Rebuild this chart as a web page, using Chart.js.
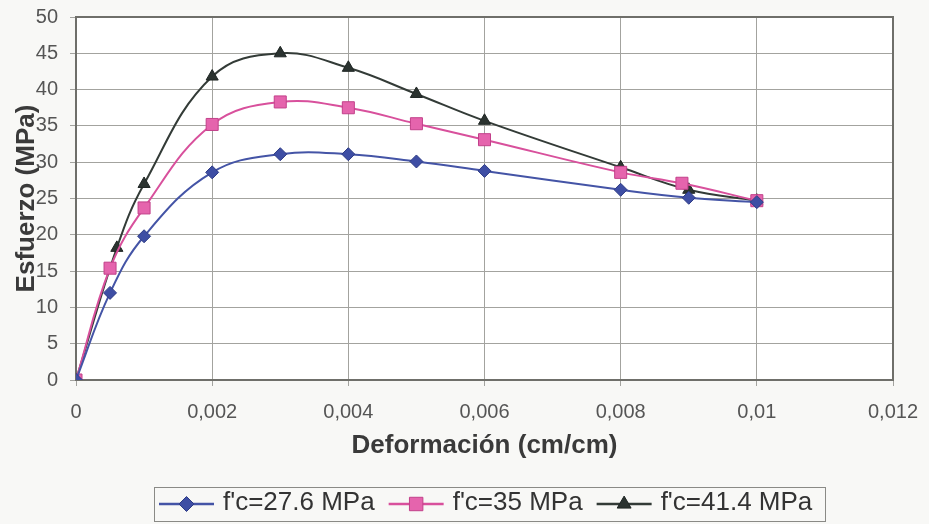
<!DOCTYPE html>
<html lang="es">
<head>
<meta charset="utf-8">
<title>Esfuerzo - Deformación</title>
<script src="https://cdn.jsdelivr.net/npm/chart.js@4.4.1/dist/chart.umd.min.js"></script>
<style>
  html, body { margin: 0; padding: 0; background: #f8f8f6; }
  #wrap { width: 929px; height: 524px; }
</style>
</head>
<body>
<div id="wrap"><canvas id="curvaChart" width="929" height="524"></canvas></div>
<script>
// datos (deformación en cm/cm, esfuerzo en MPa)
const strain276 = [0, 0.0005, 0.001, 0.002, 0.003, 0.004, 0.005, 0.006, 0.008, 0.009, 0.01];
const stress276 = [0, 12.0, 19.8, 28.6, 31.1, 31.1, 30.1, 28.8, 26.2, 25.1, 24.5];

const strain35 = [0, 0.0005, 0.001, 0.002, 0.003, 0.004, 0.005, 0.006, 0.008, 0.0089, 0.01];
const stress35 = [0, 15.4, 23.7, 35.2, 38.3, 37.5, 35.3, 33.1, 28.6, 27.1, 24.7];

const strain414 = [0, 0.0006, 0.001, 0.002, 0.003, 0.004, 0.005, 0.006, 0.008, 0.009, 0.01];
const stress414 = [0, 18.2, 27.0, 41.8, 45.0, 43.0, 39.4, 35.7, 29.3, 26.2, 24.7];

const seriesLabels = ["f'c=27.6 MPa", "f'c=35 MPa", "f'c=41.4 MPa"];
const xTickLabels = ["0", "0,002", "0,004", "0,006", "0,008", "0,01", "0,012"];

const FONT = "'Liberation Sans', Arial, Helvetica, sans-serif";

function toPoints(xs, ys) {
  return xs.map((x, i) => ({ x: x, y: ys[i] }));
}

// marcador simple para la leyenda
function drawMarker(ctx, style, x, y, r, fill, stroke) {
  ctx.beginPath();
  if (style === "rectRot") {
    ctx.moveTo(x, y - r);
    ctx.lineTo(x + r, y);
    ctx.lineTo(x, y + r);
    ctx.lineTo(x - r, y);
  } else if (style === "rect") {
    const s = r * Math.SQRT1_2;
    ctx.rect(x - s, y - s, 2 * s, 2 * s);
  } else {
    const h = r * 1.5;
    ctx.moveTo(x, y - h * 0.66);
    ctx.lineTo(x + r * 0.87, y + h * 0.34);
    ctx.lineTo(x - r * 0.87, y + h * 0.34);
  }
  ctx.closePath();
  ctx.fillStyle = fill;
  ctx.fill();
  ctx.strokeStyle = stroke;
  ctx.lineWidth = 1;
  ctx.stroke();
}

const backgroundPlugin = {
  id: "fondo",
  beforeDraw(chart) {
    const { ctx, chartArea: a } = chart;
    ctx.save();
    ctx.fillStyle = "#f8f8f6";
    ctx.fillRect(0, 0, chart.width, chart.height);
    ctx.fillStyle = "#ffffff";
    ctx.fillRect(a.left, a.top, a.right - a.left, a.bottom - a.top);
    ctx.restore();
  },
  beforeDatasetsDraw(chart) {
    const { ctx, chartArea: a } = chart;
    ctx.save();
    ctx.strokeStyle = "#6f6f6a";
    ctx.lineWidth = 2;
    ctx.strokeRect(a.left, a.top, a.right - a.left, a.bottom - a.top);
    ctx.restore();
  }
};

const legendPlugin = {
  id: "leyenda",
  afterDraw(chart) {
    const ctx = chart.ctx;
    ctx.save();
    ctx.font = "26px " + FONT;
    const lineW = 55, gapText = 9, gapItem = 14, padL = 5, padR = 13;
    const items = chart.data.datasets.map(ds => ({ ds: ds, w: ctx.measureText(ds.label).width }));
    let total = padL + padR;
    items.forEach((it, i) => {
      total += lineW + gapText + it.w + (i < items.length - 1 ? gapItem : 0);
    });
    const top = 487, h = 34;
    let x = Math.round(490 - total / 2);
    ctx.strokeStyle = "#8a8a86";
    ctx.lineWidth = 1;
    ctx.strokeRect(x + 0.5, top + 0.5, Math.round(total), h);

    const cy = top + h / 2;
    x += padL;
    items.forEach(it => {
      const ds = it.ds;
      ctx.strokeStyle = ds.borderColor;
      ctx.lineWidth = 2.5;
      ctx.beginPath();
      ctx.moveTo(x, cy);
      ctx.lineTo(x + lineW, cy);
      ctx.stroke();
      drawMarker(ctx, ds.pointStyle, x + lineW / 2, cy, ds.pointRadius + 1,
        ds.pointBackgroundColor, ds.pointBorderColor);
      ctx.fillStyle = "#333333";
      ctx.textBaseline = "middle";
      ctx.textAlign = "left";
      ctx.fillText(ds.label, x + lineW + gapText, cy - 1);
      x += lineW + gapText + it.w + gapItem;
    });
    ctx.restore();
  }
};

new Chart(document.getElementById("curvaChart"), {
  type: "scatter",
  data: {
    datasets: [
      {
        label: seriesLabels[0],
        data: toPoints(strain276, stress276),
        showLine: true,
        borderColor: "#4454a6",
        borderWidth: 2,
        tension: 0.4,
        pointStyle: "rectRot",
        pointRadius: 6.5,
        pointBackgroundColor: "#3e4ea4",
        pointBorderColor: "#2e3c86",
        pointBorderWidth: 1
      },
      {
        label: seriesLabels[1],
        data: toPoints(strain35, stress35),
        showLine: true,
        borderColor: "#d8509c",
        borderWidth: 2,
        tension: 0.4,
        pointStyle: "rect",
        pointRadius: 8.5,
        pointBackgroundColor: "#e564ad",
        pointBorderColor: "#c2408a",
        pointBorderWidth: 1
      },
      {
        label: seriesLabels[2],
        data: toPoints(strain414, stress414),
        showLine: true,
        borderColor: "#333b37",
        borderWidth: 2,
        tension: 0.4,
        pointStyle: "triangle",
        pointRadius: 7,
        pointBackgroundColor: "#2b3330",
        pointBorderColor: "#1f2624",
        pointBorderWidth: 1
      }
    ]
  },
  options: {
    responsive: false,
    animation: false,
    layout: {
      padding: { top: 17, right: 36, bottom: 0, left: 0 }
    },
    plugins: {
      legend: { display: false },
      tooltip: { enabled: false }
    },
    scales: {
      x: {
        type: "linear",
        min: 0,
        max: 0.012,
        afterFit: function (scale) {
          scale.height = 144;
          scale.paddingLeft = 0;
          scale.paddingRight = 0;
        },
        grid: {
          color: "#a3a39f",
          lineWidth: 1,
          tickLength: 6
        },
        border: { display: false },
        ticks: {
          stepSize: 0.002,
          padding: 14,
          color: "#555555",
          font: { family: FONT, size: 20 },
          callback: function (value, index) {
            return xTickLabels[index];
          }
        },
        title: {
          display: true,
          text: "Deformación (cm/cm)",
          color: "#3a3a3a",
          font: { family: FONT, size: 26, weight: "bold" },
          padding: { top: 0, bottom: 63 }
        }
      },
      y: {
        min: 0,
        max: 50,
        afterFit: function (scale) {
          scale.width = 76;
          scale.paddingTop = 0;
          scale.paddingBottom = 0;
        },
        grid: {
          color: "#a3a39f",
          lineWidth: 1,
          tickLength: 6
        },
        border: { display: false },
        ticks: {
          stepSize: 5,
          padding: 12,
          color: "#555555",
          font: { family: FONT, size: 20 }
        },
        title: {
          display: true,
          text: "Esfuerzo (MPa)",
          color: "#3a3a3a",
          font: { family: FONT, size: 26, weight: "bold" },
          padding: { top: 11, bottom: 0 }
        }
      }
    }
  },
  plugins: [backgroundPlugin, legendPlugin]
});
</script>
</body>
</html>
